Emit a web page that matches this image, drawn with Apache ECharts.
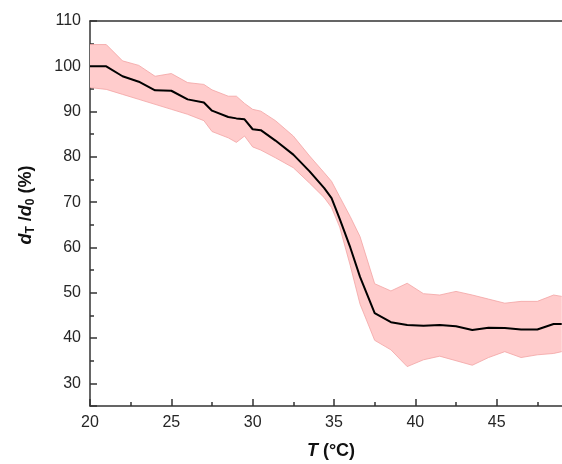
<!DOCTYPE html>
<html>
<head>
<meta charset="utf-8">
<title>d_T / d_0 versus temperature</title>
<script src="https://cdn.jsdelivr.net/npm/echarts@6/dist/echarts.min.js"></script>
<style>
  html, body { margin: 0; padding: 0; background: #ffffff; }
  #chart { width: 562px; height: 464px; }
</style>
</head>
<body>
<div id="chart"></div>
<script>
// Temperature (°C) at each measurement
var temperature = [20, 21, 22, 23, 24, 25, 26, 27, 27.5, 28.5, 29, 29.5, 30, 30.5, 31.4, 32.5, 33.5, 34.4, 34.85, 35.35, 36, 36.6, 37.5, 38.5, 39.5, 40.5, 41.5, 42.5, 43.5, 44.5, 45.5, 46.5, 47.5, 48.5, 49];
// Mean relative diameter d_T / d_0 (%)
var meanRatio = [100.0, 100.0, 97.8, 96.6, 94.7, 94.6, 92.7, 92.0, 90.2, 88.8, 88.5, 88.3, 86.1, 85.9, 83.6, 80.5, 76.8, 73.1, 70.9, 66.3, 60.0, 53.5, 45.5, 43.5, 42.9, 42.7, 42.9, 42.6, 41.8, 42.3, 42.2, 41.9, 41.9, 43.1, 43.1];
// Upper and lower limits of the spread band (%)
var upperRatio = [104.8, 104.8, 101.2, 100.2, 97.8, 98.4, 96.4, 96.0, 94.8, 93.4, 93.4, 91.8, 90.5, 90.1, 88.0, 84.6, 80.2, 76.5, 74.6, 71.2, 66.8, 62.4, 52.0, 50.4, 52.1, 49.8, 49.5, 50.3, 49.5, 48.6, 47.7, 48.1, 48.1, 49.5, 49.2];
var lowerRatio = [95.3, 94.9, 93.8, 92.7, 91.6, 90.5, 89.4, 88.0, 85.6, 84.2, 83.2, 84.6, 82.2, 81.5, 79.8, 77.6, 74.2, 71.0, 68.8, 64.5, 56.0, 47.5, 39.5, 37.4, 33.7, 35.2, 36.0, 35.0, 34.0, 35.7, 37.0, 35.7, 36.3, 36.6, 37.0];
// Axis ranges and tick steps
var xTicks = { min: 20, max: 50, step: 5 };
var yTicks = { min: 25, max: 110, minorStep: 5 };

var FONT = 'Arial, "Liberation Sans", Helvetica, sans-serif';
var AXIS_COLOR = '#333333';
var TEXT_COLOR = '#262626';

function pairs(ys) {
  return temperature.map(function (t, i) { return [t, ys[i]]; });
}
var bandData = temperature.map(function (t, i) { return [t, lowerRatio[i], upperRatio[i]]; });

// Shaded spread: one polygon along the upper limit and back along the lower one
function renderBand(params, api) {
  if (params.dataIndex !== 0) return null;
  var top = [], bottom = [];
  for (var i = 0; i < bandData.length; i++) {
    top.push(api.coord([bandData[i][0], bandData[i][2]]));
    bottom.push(api.coord([bandData[i][0], bandData[i][1]]));
  }
  var cs = params.coordSys;
  var clip = { x: cs.x, y: cs.y, width: cs.width, height: cs.height };
  return {
    type: 'group',
    children: [{
      type: 'polygon',
      shape: { points: top.concat(bottom.slice().reverse()) },
      style: { fill: '#ffcccc', stroke: null },
      clipPath: { type: 'rect', shape: clip }
    }, {
      type: 'polyline',
      shape: { points: top },
      style: { fill: null, stroke: '#f3a3a3', lineWidth: 0.8 },
      clipPath: { type: 'rect', shape: clip }
    }, {
      type: 'polyline',
      shape: { points: bottom },
      style: { fill: null, stroke: '#f3a3a3', lineWidth: 0.8 },
      clipPath: { type: 'rect', shape: clip }
    }]
  };
}

var chart = echarts.init(document.getElementById('chart'), null, { renderer: 'canvas' });

chart.setOption({
  animation: false,
  backgroundColor: '#ffffff',
  grid: { left: 90, top: 21, right: -16, bottom: 58, containLabel: false, outerBoundsMode: 'none' },
  xAxis: [{
    type: 'value',
    min: xTicks.min, max: xTicks.max, interval: xTicks.step,
    axisLine: { show: true, lineStyle: { color: AXIS_COLOR, width: 1.5 } },
    axisTick: { show: true, inside: true, length: 7, lineStyle: { color: AXIS_COLOR, width: 1.5 } },
    minorTick: { show: true, splitNumber: 2, length: 4, lineStyle: { color: AXIS_COLOR, width: 1.5 } },
    splitLine: { show: false },
    axisLabel: { color: TEXT_COLOR, fontFamily: FONT, fontSize: 16, margin: 9 }
  }, {
    type: 'value', position: 'top',
    min: xTicks.min, max: xTicks.max, interval: xTicks.step,
    axisLine: { show: true, lineStyle: { color: AXIS_COLOR, width: 1.5 } },
    axisTick: { show: false }, axisLabel: { show: false }, splitLine: { show: false }
  }],
  yAxis: [{
    type: 'value', position: 'left',
    min: yTicks.min, max: yTicks.max, splitNumber: 9,
    axisLine: { show: true, lineStyle: { color: AXIS_COLOR, width: 1.5 } },
    axisTick: { show: true, inside: true, length: 7, lineStyle: { color: AXIS_COLOR, width: 1.5 } },
    splitLine: { show: false },
    axisLabel: {
      color: TEXT_COLOR, fontFamily: FONT, fontSize: 16, margin: 9,
      formatter: function (v) { return v % 10 === 0 ? String(v) : ''; }
    }
  }, {
    // short ticks every 5 %
    type: 'value', position: 'left', offset: 0,
    min: yTicks.min, max: yTicks.max, interval: yTicks.minorStep,
    axisLine: { show: false },
    axisTick: { show: true, inside: true, length: 4, lineStyle: { color: AXIS_COLOR, width: 1.5 } },
    axisLabel: { show: false }, splitLine: { show: false }
  }],
  graphic: [{
    type: 'text',
    x: 331, y: 451,
    style: {
      text: '{i|T}{b| (°C)}',
      align: 'center', verticalAlign: 'middle',
      rich: {
        i: { fontFamily: FONT, fontSize: 18, fontWeight: 'bold', fontStyle: 'italic', fill: '#111111' },
        b: { fontFamily: FONT, fontSize: 18, fontWeight: 'bold', fill: '#111111' }
      }
    }
  }, {
    type: 'text',
    x: 26, y: 205,
    rotation: Math.PI / 2,
    style: {
      text: '{i|d}{s|T}{b| /}{i|d}{s|0}{b| (%)}',
      align: 'center', verticalAlign: 'middle',
      rich: {
        i: { fontFamily: FONT, fontSize: 18, fontWeight: 'bold', fontStyle: 'italic', fill: '#111111', lineHeight: 22, verticalAlign: 'middle' },
        b: { fontFamily: FONT, fontSize: 18, fontWeight: 'bold', fill: '#111111', lineHeight: 22, verticalAlign: 'middle' },
        s: { fontFamily: FONT, fontSize: 12, fontWeight: 'bold', fill: '#111111', lineHeight: 12, verticalAlign: 'bottom' }
      }
    }
  }],
  series: [{
    name: 'spread',
    type: 'custom',
    renderItem: renderBand,
    data: bandData,
    encode: { x: 0, y: [1, 2] },
    z: 1,
    silent: true
  }, {
    name: 'mean',
    type: 'line',
    data: pairs(meanRatio),
    symbol: 'none',
    lineStyle: { color: '#000000', width: 2 },
    z: 3
  }]
});
</script>
</body>
</html>
